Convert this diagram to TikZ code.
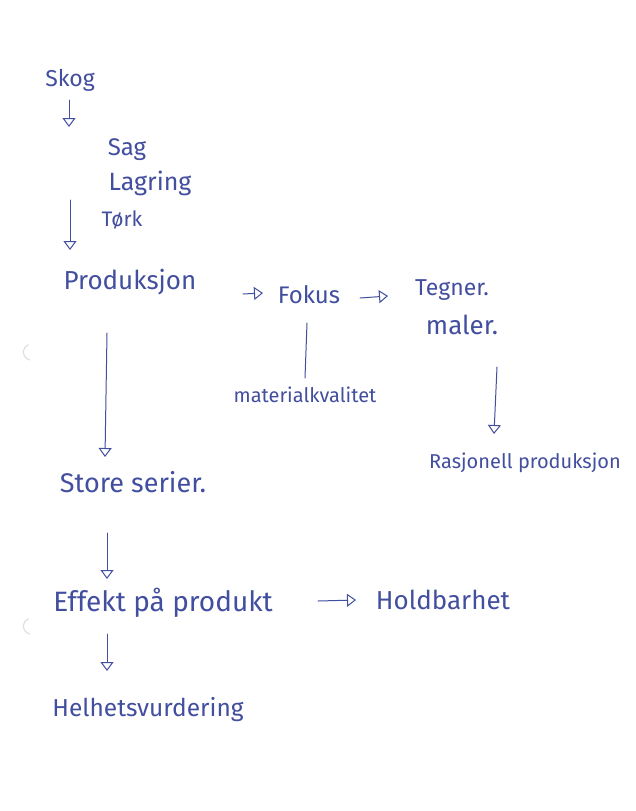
\documentclass[tikz,border=0pt]{standalone}
\usepackage{fontspec}
\setmainfont{Fira Sans}
\usetikzlibrary{arrows.meta}
\definecolor{ink}{RGB}{66,78,158}
\tikzset{
  hw/.style={text=ink, font=\fontsize{#1}{#1}\selectfont, inner sep=0pt, anchor=center},
  hw/.default=25,
  pen/.style={draw=ink, line width=1pt, line cap=round},
  arr/.style={pen, -{Triangle[open, length=9pt, width=13pt]}},
  hole/.style={draw=black!12, line width=1.2pt}
}
\begin{document}
\begin{tikzpicture}[x=1pt,y=-1pt]
\useasboundingbox[fill=white] (0,0) rectangle (635,811);
% punch holes (faint)
\draw[hole] (30,360) arc (100:250:8);
\draw[hole] (30,634) arc (100:250:8);
% nodes
\node[hw=23] (skog) at (70,80) {Skog};
\node[hw=24] (sag) at (127,150) {Sag};
\node[hw=25] (lagring) at (150,183) {Lagring};
\node[hw=21] (tork) at (122,220) {Tørk};
\node[hw=26] (prod) at (130,282) {Produksjon};
\node[hw=24] (fokus) at (309,295) {Fokus};
\node[hw=23] (tegner) at (452,290) {Tegner.};
\node[hw=26] (maler) at (462,325) {maler.};
\node[hw=20] (matkv) at (305,395) {materialkvalitet};
\node[hw=20] (rasj) at (525,463) {Rasjonell produksjon};
\node[hw=27] (store) at (133,482) {Store serier.};
\node[hw=28] (effekt) at (163,603) {Effekt på produkt};
\node[hw=26] (hold) at (443,600) {Holdbarhet};
\node[hw=24.5] (helhet) at (148,710) {Helhetsvurdering};
% ends of the short hand-drawn strokes
\coordinate (a1s) at (69,100);   \coordinate (a1e) at (69,127);
\coordinate (a2s) at (70,200);   \coordinate (a2e) at (70,250);
\coordinate (pfs) at (243,294);  \coordinate (pfe) at (263,293);
\coordinate (fts) at (360,298);  \coordinate (fte) at (388,296);
\coordinate (fms) at (307,323);  \coordinate (fme) at (305,378);
\coordinate (mrs) at (497,367);  \coordinate (mre) at (494,434);
\coordinate (pss) at (107,333);  \coordinate (pse) at (105,457);
\coordinate (ses) at (107,533);  \coordinate (see) at (107,579);
\coordinate (ehs) at (318,601);  \coordinate (ehe) at (356,600);
\coordinate (eos) at (107,634);  \coordinate (eoe) at (107,671);
% connectors
\draw[arr] (a1s) -- (a1e);
\draw[arr] (a2s) -- (a2e);
\draw[arr] (pfs) -- (pfe);
\draw[arr] (fts) -- (fte);
\draw[pen] (fms) -- (fme);
\draw[arr] (mrs) -- (mre);
\draw[arr] (pss) -- (pse);
\draw[arr] (ses) -- (see);
\draw[arr] (ehs) -- (ehe);
\draw[arr] (eos) -- (eoe);
\end{tikzpicture}
\end{document}
